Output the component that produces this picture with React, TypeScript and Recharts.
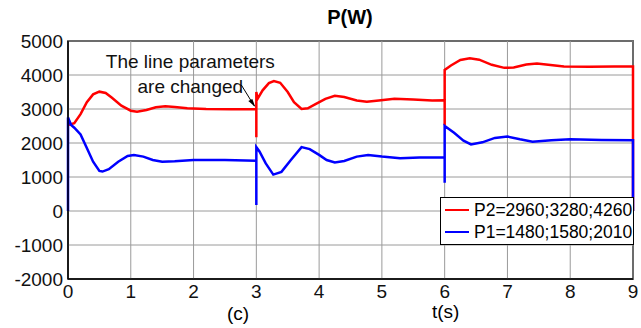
import { Line, LineChart, ReferenceArea, ReferenceDot, ReferenceLine, XAxis, YAxis } from 'recharts'

const timeTicks = [0, 1, 2, 3, 4, 5, 6, 7, 8, 9]
const powerTicks = [-2000, -1000, 0, 1000, 2000, 3000, 4000, 5000]

// P2 (red) trace
const p2Time = [
    0, 0.1, 0.2, 0.3, 0.4, 0.5, 0.6, 0.7, 0.85, 1.0, 1.1, 1.25, 1.4, 1.55, 1.7, 1.9, 2.2, 2.6, 3.0,
    3.0, 3.0, 3.02, 3.1, 3.2, 3.28, 3.38, 3.5, 3.6, 3.72, 3.82, 3.95, 4.1, 4.25, 4.4, 4.6, 4.76, 4.95, 5.2, 5.5, 5.8, 6.0,
    6.0, 6.0, 6.1, 6.25, 6.4, 6.55, 6.75, 6.95, 7.1, 7.3, 7.47, 7.65, 7.9, 8.3, 8.7, 9.0, 9.0,
]
const p2Power = [
    2530, 2580, 2850, 3200, 3430, 3510, 3470, 3330, 3100, 2950, 2920, 2970, 3050, 3080, 3060, 3020, 3000, 2990, 3000,
    2170, 3500, 3300, 3550, 3760, 3820, 3770, 3500, 3200, 3000, 3020, 3150, 3300, 3390, 3350, 3250, 3210, 3250, 3300, 3280, 3250, 3260,
    2520, 4150, 4280, 4440, 4490, 4450, 4300, 4210, 4220, 4310, 4340, 4300, 4250, 4240, 4250, 4250, 0,
]

// P1 (blue) trace
const p1Time = [
    0, 0, 0.05, 0.1, 0.2, 0.3, 0.4, 0.5, 0.55, 0.65, 0.8, 0.95, 1.05, 1.2, 1.35, 1.5, 1.7, 2.0, 2.5, 3.0,
    3.0, 3.0, 3.05, 3.15, 3.27, 3.4, 3.55, 3.72, 3.85, 4.0, 4.12, 4.25, 4.4, 4.6, 4.78, 5.0, 5.29, 5.6, 6.0,
    6.0, 6.0, 6.15, 6.3, 6.42, 6.6, 6.8, 7.0, 7.2, 7.4, 7.7, 8.0, 8.5, 9.0, 9.0,
]
const p1Power = [
    0, 2750, 2530, 2450, 2250, 1850, 1450, 1180, 1160, 1230, 1450, 1620, 1650, 1600, 1500, 1450, 1460, 1500, 1500, 1480,
    180, 1880, 1750, 1400, 1070, 1150, 1500, 1880, 1820, 1650, 1500, 1430, 1470, 1600, 1650, 1600, 1550, 1570, 1580,
    830, 2500, 2300, 2070, 1960, 2020, 2150, 2190, 2110, 2040, 2080, 2110, 2090, 2080, 0,
]

const seriesNames = ['P2=2960;3280;4260', 'P1=1480;1580;2010']
const seriesColors = ['#ff0000', '#0000ff']

const p2Data = p2Time.map((t, i) => ({ t, p: p2Power[i] }))
const p1Data = p1Time.map((t, i) => ({ t, p: p1Power[i] }))

const font = '"Liberation Sans", Arial, sans-serif'
const gridColor = '#9a9a9a'

function ChangeNote(props: { cx?: number; cy?: number }) {
    const cx = props.cx ?? 0
    const cy = props.cy ?? 0
    return (
        <g>
            <text x={cx - 66} y={cy - 41} textAnchor="middle" fontSize={19} fontFamily={font} fill="#111">
                The line parameters
            </text>
            <text x={cx - 66} y={cy - 16} textAnchor="middle" fontSize={19} fontFamily={font} fill="#111">
                are changed
            </text>
            <line x1={cx - 15} y1={cy - 24} x2={cx - 2} y2={cy - 3} stroke="#000" strokeWidth={1} />
            <path d={`M${cx - 1},${cy - 2} L${cx - 8},${cy - 8} L${cx - 4},${cy - 10} Z`} fill="#000" />
        </g>
    )
}

function LegendBox() {
    return (
        <div style={{ position: 'absolute', left: 440, top: 197, boxSizing: 'border-box', width: 194, height: 48, border: '1.5px solid #000', background: '#fff', padding: '1px 0', fontSize: 17.5 }}>
            {seriesNames.map((name, i) => (
                <div key={name} style={{ display: 'flex', alignItems: 'center', height: 22 }}>
                    <span style={{ display: 'inline-block', width: 24, height: 2, background: seriesColors[i], marginLeft: 4, marginRight: 5 }} />
                    <span>{name}</span>
                </div>
            ))}
        </div>
    )
}

export default function App() {
    return (
        <div style={{ position: 'absolute', left: 0, top: 0, width: 641, height: 328, background: '#fff', fontFamily: font }}>
            <div style={{ position: 'absolute', left: 0, width: 700, top: 6, textAlign: 'center', fontSize: 20, fontWeight: 'bold' }}>
                P(W)
            </div>
            <LineChart width={641} height={328} data={p2Data} margin={{ top: 41, right: 8, left: 0, bottom: 0 }}>
                <XAxis
                    type="number"
                    dataKey="t"
                    domain={[0, 9]}
                    ticks={timeTicks}
                    allowDuplicatedCategory={false}
                    height={49}
                    tickLine={false}
                    tickSize={0}
                    tickMargin={6}
                    axisLine={{ stroke: '#000', strokeWidth: 1.5 }}
                    tick={{ fill: '#111', fontSize: 19, fontFamily: font }}
                    interval={0}
                />
                <YAxis
                    type="number"
                    domain={[-2000, 5000]}
                    ticks={powerTicks}
                    width={68}
                    tickLine={false}
                    tickSize={0}
                    tickMargin={5}
                    axisLine={{ stroke: '#000', strokeWidth: 1.5 }}
                    tick={{ fill: '#111', fontSize: 19, fontFamily: font }}
                    interval={0}
                />
                {timeTicks.map((t) => (
                    <ReferenceLine key={`vx${t}`} x={t} stroke={gridColor} strokeWidth={1} />
                ))}
                {powerTicks.map((v) => (
                    <ReferenceLine key={`hy${v}`} y={v} stroke={gridColor} strokeWidth={1} />
                ))}
                <ReferenceArea x1={0} x2={9} y1={-2000} y2={5000} fill="none" stroke="#000" strokeWidth={1.5} />
                <Line data={p2Data} dataKey="p" name={seriesNames[0]} type="linear" stroke={seriesColors[0]} strokeWidth={2.5} dot={false} isAnimationActive={false} />
                <Line data={p1Data} dataKey="p" name={seriesNames[1]} type="linear" stroke={seriesColors[1]} strokeWidth={2.5} dot={false} isAnimationActive={false} />
                <ReferenceDot x={3} y={3000} shape={(p: any) => <ChangeNote cx={p.cx} cy={p.cy} />} />
            </LineChart>
            <LegendBox />
            <div style={{ position: 'absolute', left: 227, top: 303, fontSize: 19 }}>(c)</div>
            <div style={{ position: 'absolute', left: 432, top: 301, fontSize: 19 }}>t(s)</div>
        </div>
    )
}
